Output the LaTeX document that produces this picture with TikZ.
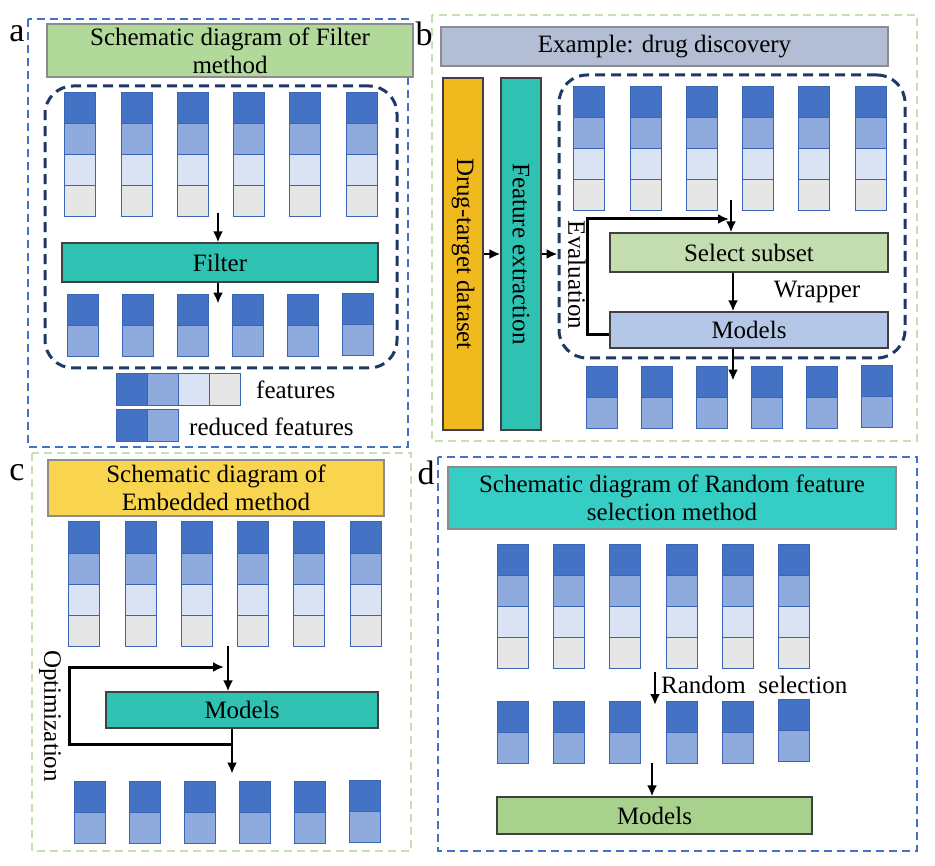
\documentclass[tikz,border=0pt]{standalone}
\usepackage{fontspec}
\setmainfont{Liberation Serif}
\usetikzlibrary{arrows.meta}
\definecolor{featA}{HTML}{4472C4}
\definecolor{featB}{HTML}{8FAADC}
\definecolor{featC}{HTML}{DAE3F3}
\definecolor{featD}{HTML}{E7E6E6}
\definecolor{cellline}{HTML}{3B64B4}
\definecolor{blueline}{HTML}{4472C4}
\definecolor{greenline}{HTML}{C5E0B4}
\definecolor{navyline}{HTML}{1F3864}
\definecolor{titleA}{HTML}{B0D99A}
\definecolor{titleB}{HTML}{B3BDD3}
\definecolor{titleC}{HTML}{F9D54F}
\definecolor{titleD}{HTML}{36CEC4}
\definecolor{tealbox}{HTML}{2FC1B2}
\definecolor{drugbox}{HTML}{F0B91E}
\definecolor{selectbox}{HTML}{C3DDB0}
\definecolor{modelbox}{HTML}{B4C7E7}
\definecolor{modelgreen}{HTML}{A9D18E}
\newcommand\txt{\fontsize{25}{28}\selectfont}
\tikzset{
  cell/.style={draw=cellline, line width=1},
  frameblue/.style={draw=blueline, line width=2.5, dash pattern=on 8pt off 5pt},
  framegreen/.style={draw=greenline, line width=2.5, dash pattern=on 8pt off 5pt},
  roundframe/.style={draw=navyline, line width=3, dash pattern=on 10pt off 6pt, rounded corners=28pt},
  titlebox/.style={draw=black!45, line width=1.5, align=center, font=\txt, inner sep=0},
  box/.style={draw=black!75, line width=1.2, font=\txt, inner sep=0},
  arr/.style={line width=2.8, -{Latex[length=11pt,width=10pt]}},
  loop/.style={line width=3, -{Latex[length=11pt,width=10pt]}},
  panel/.style={font=\fontsize{34}{34}\selectfont, inner sep=0},
}
\newcommand\featcol[2]{
  \draw[cell,fill=featA] (#1,#2) rectangle ++(31,31);
  \draw[cell,fill=featB] (#1,#2+31) rectangle ++(31,31);
  \draw[cell,fill=featC] (#1,#2+62) rectangle ++(31,31);
  \draw[cell,fill=featD] (#1,#2+93) rectangle ++(31,31);
}
\newcommand\redcol[2]{
  \draw[cell,fill=featA] (#1,#2) rectangle ++(31,31);
  \draw[cell,fill=featB] (#1,#2+31) rectangle ++(31,31);
}
\begin{document}
\begin{tikzpicture}[x=1pt,y=-1pt]
  \useasboundingbox (0,0) rectangle (935,866);

  % a: filter method
  \draw[frameblue] (28,19) rectangle (408,447);
  \node[panel] (la) at (17,34) {a};
  \node[titlebox, fill=titleA, minimum width=366, minimum height=53] (ta) at (230,50.5) {Schematic diagram of Filter\\method};
  \node[roundframe, minimum width=352, minimum height=282] (wrapa) at (221,227) {};
  \foreach \x in {64,121,177,233,289,346} {\featcol{\x}{93}}
  \node[box, fill=tealbox, minimum width=316, minimum height=39] (filter) at (220,262.5) {Filter};
  \coordinate (a-in) at (218,213);
  \draw[arr] (a-in) -- (a-in |- filter.north);
  \draw[arr] (filter.south -| a-in) -- ++(0,21);
  \foreach \x in {67,122,177,232,287} {\redcol{\x}{295}}
  \redcol{342}{294}
  \draw[cell,fill=featA] (116,374) rectangle ++(31,32);
  \draw[cell,fill=featB] (147,374) rectangle ++(31,32);
  \draw[cell,fill=featC] (178,374) rectangle ++(31,32);
  \draw[cell,fill=featD] (209,374) rectangle ++(31,32);
  \node[font=\txt, anchor=west, inner sep=0] (featlab) at (256,390) {features};
  \draw[cell,fill=featA] (116,410) rectangle ++(31,32);
  \draw[cell,fill=featB] (147,410) rectangle ++(31,32);
  \node[font=\txt, anchor=west, inner sep=0] (redlab) at (189,427) {reduced features};

  % b: wrapper example
  \draw[framegreen] (432,15) rectangle (917,441);
  \node[panel] (lb) at (424,34) {b};
  \node[titlebox, fill=titleB, minimum width=447, minimum height=39] (tb) at (664.5,46.5) {Example: drug discovery};
  \node[box, fill=drugbox, rotate=-90, minimum width=352, minimum height=40] (drug) at (463,254) {Drug-target dataset};
  \node[box, fill=tealbox, rotate=-90, minimum width=352, minimum height=40] (feat) at (521,254) {Feature extraction};
  \node[roundframe, minimum width=346, minimum height=283] (wrapb) at (732,216.5) {};
  \draw[arr] (drug) -- (feat);
  \draw[arr] (feat.north) -- (feat.north -| wrapb.west);
  \foreach \x in {573,630,686,742,798,855} {\featcol{\x}{87}}
  \node[box, fill=selectbox, minimum width=278, minimum height=39] (select) at (749,252.5) {Select subset};
  \node[box, fill=modelbox, minimum width=278, minimum height=36] (modelsb) at (749,330) {Models};
  \coordinate (b-in) at (731,200);
  \coordinate (b-mid) at (733,0);
  \coordinate (b-eval) at (729,219);
  \draw[arr] (b-in) -- (b-in |- select.north);
  \draw[arr] (select.south -| b-mid) -- (modelsb.north -| b-mid);
  \draw[loop] ([yshift=-5pt]modelsb.west) -- ++(-22,0) |- (b-eval);
  \node[font=\txt, rotate=-90, inner sep=0] (evallab) at (577,275) {Evaluation};
  \node[font=\txt, inner sep=0] (wraplab) at (817,292) {Wrapper};
  \draw[arr] (modelsb.south -| b-mid) -- ++(0,32);
  \foreach \x in {586,641,696,751,806} {\redcol{\x}{367}}
  \redcol{861}{366}

  % c: embedded method
  \draw[framegreen] (32,453) rectangle (411,851);
  \node[panel] (lc) at (17,473) {c};
  \node[titlebox, fill=titleC, minimum width=336, minimum height=56] (tc) at (216,488) {Schematic diagram of\\Embedded method};
  \foreach \x in {68,125,181,237,293,350} {\featcol{\x}{522}}
  \node[box, fill=tealbox, minimum width=272, minimum height=36] (modelsc) at (242,710) {Models};
  \coordinate (c-in) at (228,646);
  \coordinate (c-out) at (232,0);
  \coordinate (c-split) at (232,744);
  \coordinate (c-opt) at (224,667);
  \draw[arr] (c-in) -- (c-in |- modelsc.north);
  \draw[arr] (modelsc.south -| c-out) -- ++(0,45);
  \draw[loop] (c-split) -- ++(-163,0) |- (c-opt);
  \node[font=\txt, rotate=-90, inner sep=0] (optlab) at (50,716) {Optimization};
  \foreach \x in {74,129,184,239,294} {\redcol{\x}{781}}
  \redcol{349}{780}

  % d: random feature selection
  \draw[frameblue] (438,457) rectangle (917,851);
  \node[panel] (ld) at (426,473) {d};
  \node[titlebox, fill=titleD, minimum width=448, minimum height=62] (td) at (672,498) {Schematic diagram of Random feature\\selection method};
  \foreach \x in {497,553,609,666,722,778} {\featcol{\x}{544}}
  \coordinate (d-in) at (655,672);
  \draw[arr] (d-in) -- ++(0,33);
  \node[font=\txt, anchor=west, inner sep=0] (randlab) at (661,685) {Random\ \ selection};
  \foreach \x in {497,553,609,666,722} {\redcol{\x}{701}}
  \redcol{778}{699}
  \node[box, fill=modelgreen, minimum width=315, minimum height=37] (modelsd) at (654.5,815.5) {Models};
  \coordinate (d-mid) at (652,763);
  \draw[arr] (d-mid) -- (d-mid |- modelsd.north);
\end{tikzpicture}
\end{document}
